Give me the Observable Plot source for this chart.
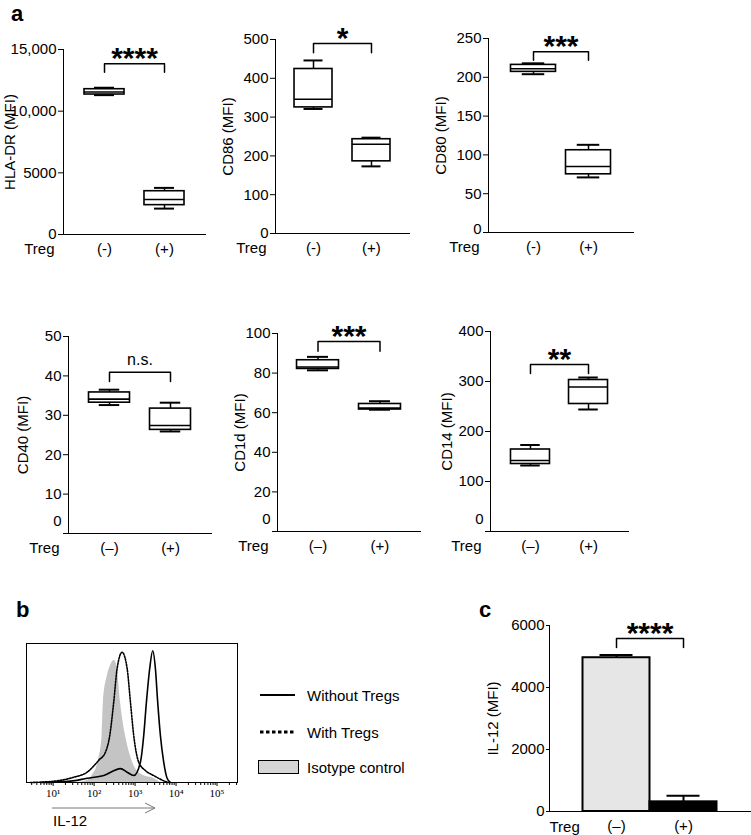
<!DOCTYPE html>
<html><head><meta charset="utf-8">
<script src="https://cdn.jsdelivr.net/npm/d3@7"></script>
<script src="https://cdn.jsdelivr.net/npm/@observablehq/plot@0.6"></script>
<style>
html,body{margin:0;padding:0;background:#fff;}
#root{position:relative;width:751px;height:835px;overflow:hidden;background:#fff;}
#root svg{position:absolute;overflow:visible;}
.pa [aria-label*="axis line"], .pa [aria-label*="axis line"] *{stroke-width:1.5px;}
.pc [aria-label*="axis line"], .pc [aria-label*="axis line"] *{stroke-width:2.2px;}
</style></head>
<body><div id="root"></div>
<script>
// ---------------- data ----------------
const groupsTop = ["(-)", "(+)"];
const groupsBottom = ["(–)", "(+)"];

// HLA-DR
const hlaTicks = [0, 5000, 10000, 15000];
const hlaTickLabels = ["0", "5000", "10,000", "15,000"];
const hlaMin = [11300, 2100];
const hlaQ1 = [11350, 2380];
const hlaMedian = [11550, 2840];
const hlaQ3 = [11780, 3510];
const hlaMax = [11900, 3780];

// CD86
const cd86Ticks = [0, 100, 200, 300, 400, 500];
const cd86TickLabels = ["0", "100", "200", "300", "400", "500"];
const cd86Min = [321, 173];
const cd86Q1 = [325, 186];
const cd86Median = [346, 230];
const cd86Q3 = [424, 243];
const cd86Max = [446, 247];

// CD80
const cd80Ticks = [0, 50, 100, 150, 200, 250];
const cd80TickLabels = ["0", "50", "100", "150", "200", "250"];
const cd80Min = [204, 71];
const cd80Q1 = [207, 75];
const cd80Median = [211, 85];
const cd80Q3 = [216, 106];
const cd80Max = [218, 113];

// CD40
const cd40Ticks = [0, 10, 20, 30, 40, 50];
const cd40TickLabels = ["0", "10", "20", "30", "40", "50"];
const cd40Min = [32.6, 25.9];
const cd40Q1 = [33.2, 26.3];
const cd40Median = [34.1, 27.4];
const cd40Q3 = [35.8, 31.7];
const cd40Max = [36.5, 33.2];

// CD1d
const cd1dTicks = [0, 20, 40, 60, 80, 100];
const cd1dTickLabels = ["0", "20", "40", "60", "80", "100"];
const cd1dMin = [81.4, 61.5];
const cd1dQ1 = [82.1, 61.6];
const cd1dMedian = [83.1, 62.3];
const cd1dQ3 = [86.5, 64.4];
const cd1dMax = [88.2, 65.8];

// CD14
const cd14Ticks = [0, 100, 200, 300, 400];
const cd14TickLabels = ["0", "100", "200", "300", "400"];
const cd14Min = [132, 244];
const cd14Q1 = [135, 255];
const cd14Median = [142, 289];
const cd14Q3 = [164, 303];
const cd14Max = [173, 308];

// significance brackets (a)
const sigLabels = ["****", "*", "***", "n.s.", "***", "**"];
const bracketTop = [13850, 490, 233, 40.9, 96, 334];
const bracketEnd = [13150, 466, 222, 38.6, 91, 316];

// (b) IL-12 histogram (MFI, % of max)
const isoMFI = [39, 73, 90, 128, 157, 169, 212, 251, 313, 365, 440, 582, 771, 1020, 1600, 2805, 4150];
const isoCount = [0, 2, 5, 16, 34, 58, 77, 84, 88, 83, 58, 34, 19, 10, 5, 3, 0];
const withMFI = [2.8, 12.6, 31.9, 67.6, 130, 189, 241, 301, 365, 483, 640, 771, 927, 1228, 1787, 2851, 5000, 6500];
const withCount = [0, 1.2, 3.8, 7.4, 16, 21.8, 33.8, 57.8, 82, 93.7, 82, 57.8, 33.8, 14.6, 8.6, 5, 1.2, 0];
const withoutMFI = [4.9, 26.5, 67.6, 172, 440, 640, 927, 1349, 1626, 1892, 2277, 2694, 3133, 3565, 4150, 5000, 6050, 7280];
const withoutCount = [0, 1, 3, 5, 10, 7.4, 5, 14.6, 33.8, 57.8, 82, 94.8, 82, 57.8, 33.8, 14.6, 3, 0];
const histMajorTicks = [10, 100, 1000, 10000, 100000];
const histMajorLabels = ["10¹", "10²", "10³", "10⁴", "10⁵"];
const legendLabels = ["Without Tregs", "With Tregs", "Isotype control"];

// (c) IL-12 MFI bars
const il12Mean = [4960, 312];
const il12Err = [90, 194];
const il12Ticks = [0, 2000, 4000, 6000];
const il12TickLabels = ["0", "2000", "4000", "6000"];
const il12Sig = "****";
const il12BracketTop = 5580;
const il12BracketEnd = 5290;

// ---------------- drawing ----------------
const FONT = "'Liberation Sans', Arial, Helvetica, sans-serif";
const root = document.getElementById("root");
function place(svg, left, top, cls) {
  svg.style.left = left + "px";
  svg.style.top = top + "px";
  if (cls) svg.classList.add(cls);
  root.appendChild(svg);
}

const panels = [
  {groups: groupsTop, label: "HLA-DR (MFI)", ticks: hlaTicks, tickLabels: hlaTickLabels, min: hlaMin, q1: hlaQ1, med: hlaMedian, q3: hlaQ3, max: hlaMax,
   left: 0, top: 0, w: 230, h: 270, mL: 63, mR: 25, mT: 49, mB: 36, pi: 0.333, po: 0.35, labelOff: 53, lift: 0, domainMax: 15000, sigDy: -5},
  {groups: groupsTop, label: "CD86 (MFI)", ticks: cd86Ticks, tickLabels: cd86TickLabels, min: cd86Min, q1: cd86Q1, med: cd86Median, q3: cd86Q3, max: cd86Max,
   left: 230, top: 0, w: 200, h: 270, mL: 45, mR: 21, mT: 39, mB: 37, pi: 0.345, po: 0.328, labelOff: 47, lift: 0, domainMax: 500, sigDy: -5},
  {groups: groupsTop, label: "CD80 (MFI)", ticks: cd80Ticks, tickLabels: cd80TickLabels, min: cd80Min, q1: cd80Q1, med: cd80Median, q3: cd80Q3, max: cd80Max,
   left: 430, top: 0, w: 230, h: 270, mL: 58, mR: 27, mT: 38, mB: 38, pi: 0.182, po: 0.409, labelOff: 47, lift: 3, domainMax: 250, sigDy: -5},
  {groups: groupsBottom, label: "CD40 (MFI)", ticks: cd40Ticks, tickLabels: cd40TickLabels, min: cd40Min, q1: cd40Q1, med: cd40Median, q3: cd40Q3, max: cd40Max,
   left: 0, top: 290, w: 230, h: 290, mL: 68, mR: 19, mT: 46, mB: 47, pi: 0.328, po: 0.336, labelOff: 45, lift: 12, domainMax: 50, sigDy: -12},
  {groups: groupsBottom, label: "CD1d (MFI)", ticks: cd1dTicks, tickLabels: cd1dTickLabels, min: cd1dMin, q1: cd1dQ1, med: cd1dMedian, q3: cd1dQ3, max: cd1dMax,
   left: 230, top: 290, w: 200, h: 290, mL: 47, mR: 10, mT: 43, mB: 49, pi: 0.323, po: 0.315, labelOff: 37, lift: 12, domainMax: 100, sigDy: -5},
  {groups: groupsBottom, label: "CD14 (MFI)", ticks: cd14Ticks, tickLabels: cd14TickLabels, min: cd14Min, q1: cd14Q1, med: cd14Median, q3: cd14Q3, max: cd14Max,
   left: 430, top: 290, w: 230, h: 290, mL: 60, mR: 32, mT: 41, mB: 49, pi: 0.328, po: 0.353, labelOff: 43, lift: 12, domainMax: 400, sigDy: -5}
];

panels.forEach((p, k) => {
  const rows = p.groups.map((g, i) => ({g, min: p.min[i], q1: p.q1[i], med: p.med[i], q3: p.q3[i], max: p.max[i]}));
  const fw = p.w - p.mL - p.mR;
  const step = fw / (2 - p.pi + 2 * p.po);
  const cap = step * (1 - p.pi) * 0.25;
  const bracket = [
    {g: p.groups[0], v: bracketEnd[k]}, {g: p.groups[0], v: bracketTop[k]},
    {g: p.groups[1], v: bracketTop[k]}, {g: p.groups[1], v: bracketEnd[k]}
  ];
  const isNS = sigLabels[k] === "n.s.";
  const svg = Plot.plot({
    width: p.w, height: p.h,
    marginLeft: p.mL, marginRight: p.mR, marginTop: p.mT, marginBottom: p.mB,
    style: {fontFamily: FONT, fontSize: "15px", color: "#000", background: "transparent", overflow: "visible"},
    x: {type: "band", domain: p.groups, paddingInner: p.pi, paddingOuter: p.po, round: false,
        tickSize: 0, tickPadding: 9, line: true, label: null},
    y: {domain: [0, p.domainMax], ticks: p.ticks,
        tickFormat: d => (p.lift && d === 0) ? "" : p.tickLabels[p.ticks.indexOf(d)],
        tickSize: 5, tickPadding: 2, line: true, label: null},
    marks: [
      Plot.ruleX(rows, {x: "g", y1: "q3", y2: "max", stroke: "#000", strokeWidth: 1.5}),
      Plot.ruleX(rows, {x: "g", y1: "min", y2: "q1", stroke: "#000", strokeWidth: 1.5}),
      Plot.tickY(rows, {x: "g", y: "max", insetLeft: cap, insetRight: cap, stroke: "#000", strokeWidth: 2}),
      Plot.tickY(rows, {x: "g", y: "min", insetLeft: cap, insetRight: cap, stroke: "#000", strokeWidth: 2}),
      Plot.barY(rows, {x: "g", y1: "q1", y2: "q3", fill: "#fff", stroke: "#000", strokeWidth: 1.6}),
      Plot.tickY(rows, {x: "g", y: "med", stroke: "#000", strokeWidth: 1.6}),
      Plot.line(bracket, {x: "g", y: "v", stroke: "#000", strokeWidth: 1.5}),
      Plot.text([{t: sigLabels[k], v: bracketTop[k]}], {text: "t", y: "v", frameAnchor: "middle",
        textAnchor: "middle", lineAnchor: "middle",
        dy: p.sigDy, fontSize: isNS ? 16 : 30, fontWeight: isNS ? "normal" : "bold", fill: "#000"}),
      Plot.text([p.label], {frameAnchor: "left", rotate: -90, dx: -p.labelOff, textAnchor: "middle", lineAnchor: "middle", fontSize: 15, fill: "#000"}),
      Plot.text(["Treg"], {frameAnchor: "bottom-left", dx: -9, dy: 15, textAnchor: "end", lineAnchor: "middle", fontSize: 15, fill: "#000"}),
      p.lift ? Plot.text([0], {y: d => d, frameAnchor: "left", dx: -7, dy: -p.lift, textAnchor: "end", lineAnchor: "middle", fontSize: 15, fill: "#000"}) : null
    ]
  });
  place(svg, p.left, p.top, "pa");
});

// ---- (b) histogram ----
const iso = isoMFI.map((x, i) => ({x, y: isoCount[i]}));
const withT = withMFI.map((x, i) => ({x, y: withCount[i]}));
const withoutT = withoutMFI.map((x, i) => ({x, y: withoutCount[i]}));
const histDomain = [2.24, 316000];
const minorTicks = [1, 10, 100, 1000, 10000, 100000]
  .flatMap(b => [2, 3, 4, 5, 6, 7, 8, 9].map(m => b * m))
  .filter(v => v >= histDomain[0] && v <= histDomain[1]);
const hist = Plot.plot({
  width: 250, height: 235, marginLeft: 26, marginRight: 13, marginTop: 43, marginBottom: 53,
  style: {fontFamily: FONT, fontSize: "10px", color: "#000", background: "transparent", overflow: "visible"},
  x: {type: "log", domain: histDomain, axis: null, label: null},
  y: {domain: [0, 100], axis: null, label: null},
  marks: [
    Plot.areaY(iso, {x: "x", y: "y", fill: "#c4c4c4", curve: "monotone-x"}),
    Plot.line(withT, {x: "x", y: "y", stroke: "#000", strokeWidth: 1.6, strokeDasharray: "1.6 1.4", curve: "monotone-x"}),
    Plot.line(withoutT, {x: "x", y: "y", stroke: "#000", strokeWidth: 1.6, curve: "monotone-x"}),
    Plot.frame({stroke: "#000", strokeWidth: 1}),
    Plot.axisX(minorTicks, {tickSize: 3, tickFormat: () => "", stroke: "#000", label: null}),
    Plot.axisX(histMajorTicks, {tickSize: 4, tickPadding: 3, tickFormat: d => histMajorLabels[histMajorTicks.indexOf(d)],
      fontFamily: "'Liberation Serif', 'Times New Roman', serif", fontSize: 11, stroke: "#000", fill: "#000", label: null})
  ]
});
place(hist, 0, 600);

// ---- (c) bars ----
const bars = groupsBottom.map((g, i) => ({g, v: il12Mean[i], e: il12Mean[i] + il12Err[i]}));
const cBracket = [
  {g: groupsBottom[0], v: il12BracketEnd}, {g: groupsBottom[0], v: il12BracketTop},
  {g: groupsBottom[1], v: il12BracketTop}, {g: groupsBottom[1], v: il12BracketEnd}
];
const barC = Plot.plot({
  width: 351, height: 235, marginLeft: 149, marginRight: 1, marginTop: 25, marginBottom: 24,
  style: {fontFamily: FONT, fontSize: "15px", color: "#000", background: "transparent", overflow: "visible"},
  x: {type: "band", domain: groupsBottom, paddingInner: 0, paddingOuter: 0.5, round: false,
      tickSize: 0, tickPadding: 9, line: true, label: null},
  y: {domain: [0, 6000], ticks: il12Ticks, tickFormat: d => il12TickLabels[il12Ticks.indexOf(d)],
      tickSize: 3, tickPadding: 2, line: true, label: null},
  marks: [
    Plot.ruleX(bars, {x: "g", y1: "v", y2: "e", stroke: "#000", strokeWidth: 2}),
    Plot.tickY(bars, {x: "g", y: "e", insetLeft: 17, insetRight: 17, stroke: "#000", strokeWidth: 2}),
    Plot.barY(bars, {x: "g", y: "v", fill: ["#e6e6e6", "#000"], stroke: "#000", strokeWidth: 2}),
    Plot.line(cBracket, {x: "g", y: "v", stroke: "#000", strokeWidth: 1.5}),
    Plot.text([{t: il12Sig, v: il12BracketTop}], {text: "t", y: "v", frameAnchor: "middle", textAnchor: "middle", lineAnchor: "middle",
      dy: -5, fontSize: 30, fontWeight: "bold", fill: "#000"}),
    Plot.text(["IL-12 (MFI)"], {frameAnchor: "left", rotate: -90, dx: -56, textAnchor: "middle", lineAnchor: "middle", fontSize: 15, fill: "#000"}),
    Plot.text(["Treg"], {frameAnchor: "bottom-left", dx: 0, dy: 16, textAnchor: "start", lineAnchor: "middle", fontSize: 15, fill: "#000"})
  ]
});
place(barC, 400, 600, "pc");

// ---- overlay: panel letters, legend, axis arrow ----
const NS = "http://www.w3.org/2000/svg";
const ov = document.createElementNS(NS, "svg");
ov.setAttribute("width", 751); ov.setAttribute("height", 835);
ov.style.left = "0px"; ov.style.top = "0px";
ov.innerHTML = `
<g font-family="${FONT.replace(/"/g, "")}" fill="#000">
  <text x="11" y="21" font-size="22" font-weight="bold">a</text>
  <text x="16" y="617" font-size="22" font-weight="bold">b</text>
  <text x="479" y="617" font-size="22" font-weight="bold">c</text>
  <line x1="260" y1="695" x2="295" y2="695" stroke="#000" stroke-width="2"/>
  <line x1="260" y1="732" x2="296" y2="732" stroke="#000" stroke-width="3" stroke-dasharray="3.5 2.5"/>
  <rect x="258.5" y="760.5" width="40" height="13" fill="#d6d6d6" stroke="#000" stroke-width="1"/>
  <text x="307" y="695" font-size="15" dominant-baseline="central">${legendLabels[0]}</text>
  <text x="307" y="732" font-size="15" dominant-baseline="central">${legendLabels[1]}</text>
  <text x="307" y="767" font-size="15" dominant-baseline="central">${legendLabels[2]}</text>
  <line x1="52" y1="808" x2="155" y2="808" stroke="#777" stroke-width="1"/>
  <polyline points="145,803 155,808 145,813" fill="none" stroke="#777" stroke-width="1"/>
  <text x="53" y="820" font-size="15" dominant-baseline="central">IL-12</text>
</g>`;
root.appendChild(ov);
</script>
</body></html>
